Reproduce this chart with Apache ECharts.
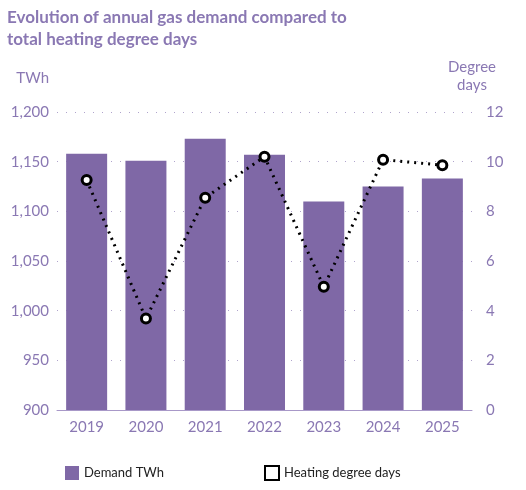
<!DOCTYPE html>
<html><head><meta charset="utf-8">
<script src="https://cdn.jsdelivr.net/npm/echarts@6/dist/echarts.min.js"></script>
<style>body{margin:0}#c{width:526px;height:490px}</style></head>
<body><div id="c"></div>
<script>
var years = ['2019', '2020', '2021', '2022', '2023', '2024', '2025'];
var demand = [1158, 1151, 1173, 1157, 1110, 1125, 1133];
var degreeDays = [9.26, 3.68, 8.55, 10.2, 4.96, 10.08, 9.86];
var purple = '#7f68a6';
var txt = '#8a78b3';
var chart = echarts.init(document.getElementById('c'));
chart.setOption({
  animation: false,
  textStyle: { fontFamily: 'Lato' },
  title: {
    text: 'Evolution of annual gas demand compared to\ntotal heating degree days',
    left: 2, top: 2,
    textStyle: { color: txt, fontSize: 17, fontWeight: 'bold', lineHeight: 22, fontFamily: 'Lato' }
  },
  legend: {
    bottom: 4, left: 60, itemGap: 100,
    textStyle: { color: '#222', fontSize: 13 },
    data: [
      { name: 'Demand TWh', icon: 'rect', itemStyle: { color: purple } },
      { name: 'Heating degree days', icon: 'rect' }
    ],
    itemWidth: 14, itemHeight: 14
  },
  grid: { left: 57, right: 54, top: 112, bottom: 80 },
  xAxis: {
    type: 'category', data: years,
    axisLine: { lineStyle: { color: '#a898c8' } },
    axisTick: { alignWithLabel: true, lineStyle: { color: '#a898c8' } },
    axisLabel: { color: txt, fontSize: 15, margin: 10 }
  },
  yAxis: [{
    type: 'value', min: 900, max: 1200, interval: 50,
    name: 'TWh', nameLocation: 'end', nameGap: 26,
    nameTextStyle: { color: txt, fontSize: 15, align: 'right', padding: [0, 8, 0, 0] },
    axisLabel: { color: txt, fontSize: 15, formatter: function (v) { return v.toLocaleString('en-US'); } },
    splitLine: { lineStyle: { color: '#b0a4cc', type: [1, 8] } }
  }, {
    type: 'value', min: 0, max: 12, interval: 2,
    name: 'Degree\ndays', nameLocation: 'end', nameGap: 18,
    nameTextStyle: { color: txt, fontSize: 15, align: 'center', lineHeight: 18 },
    axisLabel: { color: txt, fontSize: 15, margin: 14 },
    splitLine: { show: false }
  }],
  series: [{
    name: 'Demand TWh', type: 'bar', data: demand, barWidth: 41,
    itemStyle: { color: purple }
  }, {
    name: 'Heating degree days', type: 'line', yAxisIndex: 1, data: degreeDays,
    symbol: 'circle', symbolSize: 9,
    lineStyle: { color: '#000', width: 3, type: [2, 5] },
    itemStyle: { color: '#fff', borderColor: '#000', borderWidth: 3 }
  }]
});
</script></body></html>
